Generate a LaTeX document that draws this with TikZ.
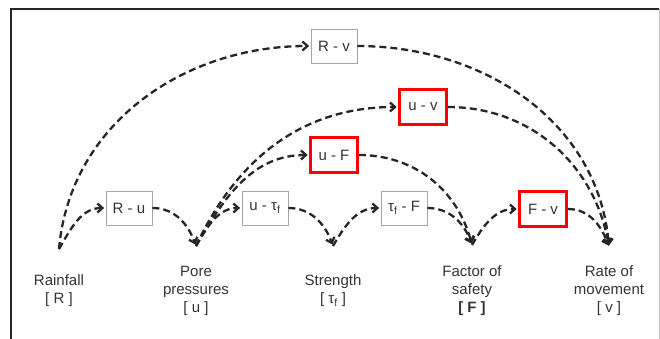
\documentclass[tikz,border=0pt]{standalone}
\usepackage{fontspec}
\setmainfont{Liberation Sans}
\usetikzlibrary{positioning, arrows.meta}
\tikzset{
  box/.style={rectangle, draw=gray!70, line width=0.8pt, fill=white, text=black!80,
              font=\fontsize{15}{18}\selectfont, minimum width=46pt, minimum height=34pt, inner sep=2pt},
  hot/.style={box, draw=red, line width=2.6pt, minimum width=47pt, minimum height=35pt},
  lnk/.style={-{Straight Barb[length=5pt,width=9pt]}, line width=2.3pt, shorten >=1.5pt,
              dash pattern=on 7pt off 4pt, black!85},
  lbl/.style={font=\fontsize{15}{18}\selectfont, align=center, text=black!80}
}

\begin{document}
\begin{tikzpicture}[x=1pt, y=-1pt]
  \useasboundingbox (0,0) rectangle (660,339);
  % frame
  \draw[line width=1.5pt, black!85] (11,339) -- (11,9) -- (659,9);
  \draw[gray!50, line width=0.8pt] (659,9) -- (659,339);
  % variables
  \node[lbl] (rain) at (59,290.5) {Rainfall\\{[} R ]};
  \node[lbl] (pore) at (196,291) {Pore\\pressures\\{[} u ]};
  \node[lbl] (str) at (333,290.5) {Strength\\{[} τ\textsubscript{f} ]};
  \node[lbl] (fos) at (472,291) {Factor of\\safety\\\textbf{[ F ]}};
  \node[lbl] (rate) at (609,291) {Rate of\\movement\\{[} v ]};
  \coordinate (R) at (59,249);
  \coordinate (u) at (196,246);
  \coordinate (t) at (333,246);
  \coordinate (F) at (472,245);
  \coordinate (v) at (609,247);
  % links, upper
  \node[box] (Rv) at (334,46) {R - v};
  \node[hot] (uv) at (423,107) {u - v};
  \node[hot] (uF) at (334,155) {u - F};
  % links, lower
  \node[box] (Ru) at (129,208) {R - u};
  \node[box] (ut) at (265,208) {u - τ\textsubscript{f}};
  \node[box] (tF) at (404,208) {τ\textsubscript{f} - F};
  \node[hot] (Fv) at (543,209) {F - v};
  % connectors
  \draw[lnk] (R) to[out=85,in=180] (Rv.west);
  \draw[lnk] (Rv.east) to[out=0,in=95] (v);
  \draw[lnk] (u) to[out=65,in=180] (uv.west);
  \draw[lnk] (uv.east) to[out=0,in=100] (v);
  \draw[lnk] (u) to[out=60,in=180] (uF.west);
  \draw[lnk] (uF.east) to[out=0,in=105] (F);
  \draw[lnk] (R) to[out=60,in=180] (Ru.west);
  \draw[lnk] (Ru.east) to[out=0,in=110] (u);
  \draw[lnk] (u) to[out=60,in=180] (ut.west);
  \draw[lnk] (ut.east) to[out=0,in=110] (t);
  \draw[lnk] (t) to[out=60,in=180] (tF.west);
  \draw[lnk] (tF.east) to[out=0,in=110] (F);
  \draw[lnk] (F) to[out=60,in=180] (Fv.west);
  \draw[lnk] (Fv.east) to[out=0,in=110] (v);
\end{tikzpicture}
\end{document}
